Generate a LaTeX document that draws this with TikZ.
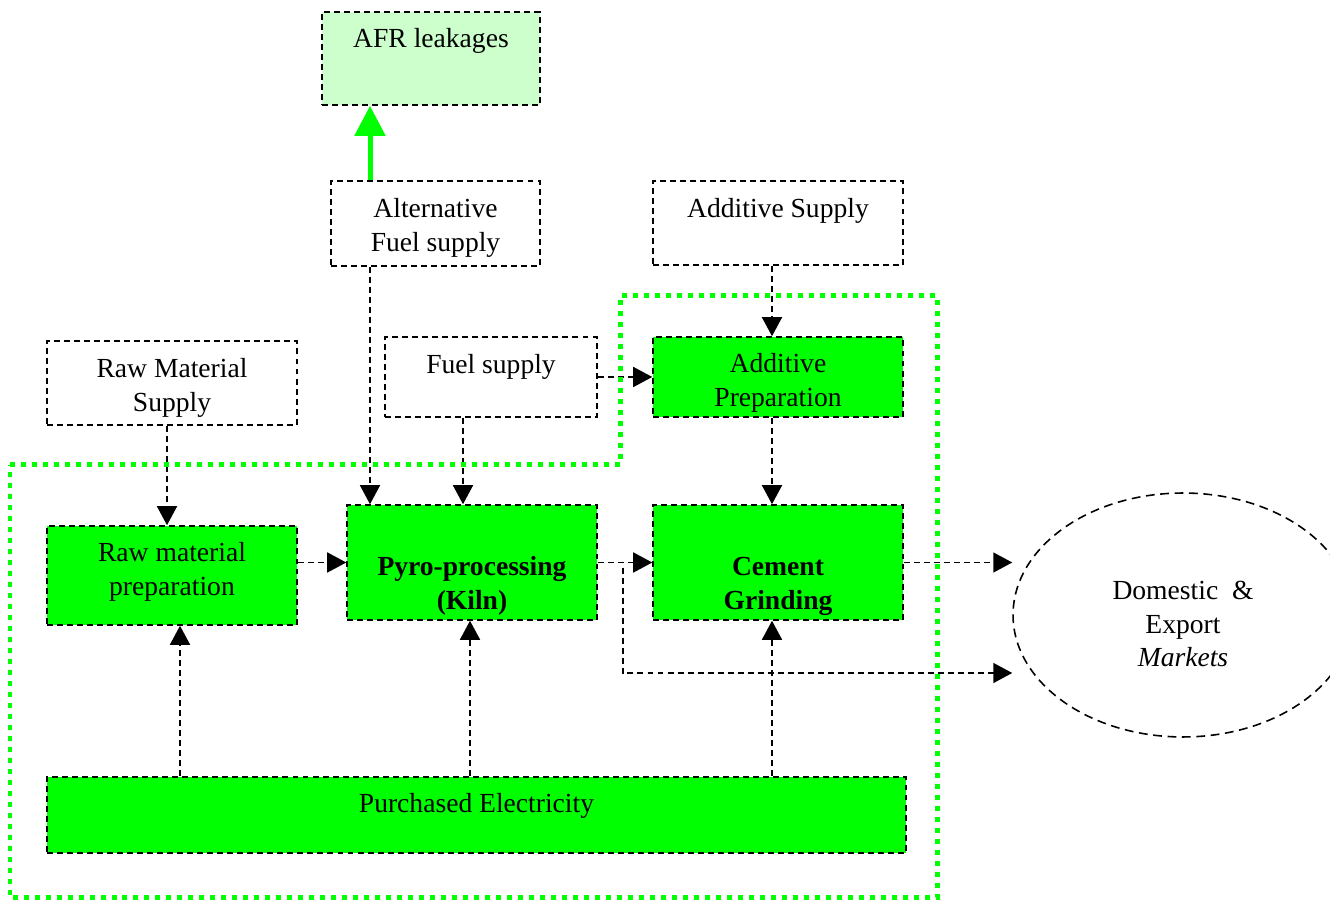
\documentclass[tikz,border=0pt]{standalone}
\usepackage{fontspec}
\setmainfont{Liberation Serif}
\usetikzlibrary{arrows.meta,calc,shapes.geometric}
\definecolor{kilngreen}{HTML}{00FF00}
\definecolor{leakgreen}{HTML}{CCFFCC}
\tikzset{
    box/.style={draw,line width=0.9pt,dash pattern=on 3.4pt off 2.3pt,inner sep=0pt,minimum width=5cm},
    procbox/.style={box,fill=kilngreen},
    flow/.style={draw,line width=0.9pt,dash pattern=on 3.4pt off 2.3pt,-{Triangle[length=0.38cm,width=0.4cm]}},
    leak/.style={draw=kilngreen,line width=0.1cm,-{Triangle[length=0.6cm,width=0.6cm]}},
    boundary/.style={draw=kilngreen,line width=0.1cm,dash pattern=on 0.1cm off 0.12cm}
}
\begin{document}
\begin{tikzpicture}[x=0.02cm,y=-0.02cm,font=\fontsize{15.7}{19.3}\selectfont]
    \useasboundingbox (0,0) rectangle (1330,901);
    % Boxes
        % Supplies
        \node[box,fill=leakgreen,minimum width=4.36cm,minimum height=1.86cm,label={[yshift=0.36cm]center:AFR leakages}] (AFR) at (431,58.5) {};
        \node[box,minimum width=4.18cm,minimum height=1.7cm,label={[align=center,yshift=-0.09cm]center:Alternative\\Fuel supply}] (AltFuel) at (435.5,223.5) {};
        \node[box,minimum height=1.68cm,label={[yshift=0.24cm]center:Additive Supply}] (AddSupply) at (778,223) {};
        \node[box,minimum height=1.68cm,label={[align=center,yshift=-0.1cm]center:Raw Material\\Supply}] (RawSupply) at (172,383) {};
        \node[box,minimum width=4.24cm,minimum height=1.6cm,label={[yshift=0.2cm]center:Fuel supply}] (FuelSupply) at (491,377) {};
        % Plant
        \node[procbox,minimum height=1.6cm,label={[align=center,yshift=-0.12cm]center:Additive\\Preparation}] (AddPrep) at (778,377) {};
        \node[procbox,minimum height=1.98cm,label={[align=center,yshift=0.07cm]center:Raw material\\preparation}] (RawPrep) at (172,575.5) {};
        \node[procbox,minimum height=2.3cm,label={[align=center,yshift=-0.47cm]center:\textbf{Pyro-processing}\\\textbf{(Kiln)}}] (Pyro) at (472,562.5) {};
        \node[procbox,minimum height=2.3cm,label={[align=center,yshift=-0.47cm]center:\textbf{Cement}\\\textbf{Grinding}}] (Cement) at (778,562.5) {};
        \node[procbox,minimum width=17.18cm,minimum height=1.52cm,label={[yshift=0.18cm]center:Purchased Electricity}] (Elec) at (476.5,815) {};
        % Markets
        \node[ellipse,draw,line width=0.9pt,dash pattern=on 5pt off 3.2pt,inner sep=0pt,minimum width=6.8cm,minimum height=4.88cm,
              label={[align=center,yshift=-0.18cm]center:Domestic\ \ \&\\Export\\\textit{Markets}}] (Mkt) at (1183,615) {};
    % Flows
        \coordinate (altx) at (370,0);
        \coordinate (fuelx) at (463,0);
        \draw[leak] (AltFuel.north -| altx) -- (AFR.south -| altx);
        \draw[flow] (AltFuel.south -| altx) -- (Pyro.north -| altx);
        \draw[flow] (FuelSupply.south -| fuelx) -- (Pyro.north -| fuelx);
        \draw[flow] (FuelSupply.east) -- (AddPrep.west);
        \draw[flow] ([xshift=-0.12cm]AddSupply.south) -- ([xshift=-0.12cm]AddPrep.north);
        \draw[flow] ([xshift=-0.12cm]AddPrep.south) -- ([xshift=-0.12cm]Cement.north);
        \draw[flow] ([xshift=-0.1cm]RawSupply.south) -- ([xshift=-0.1cm]RawPrep.north);
        \draw[flow] (RawPrep.east |- Pyro.west) -- (Pyro.west);
        \draw[flow] (Pyro) -- (Cement);
        \draw[flow] (Pyro.east) -- ++(25,0) |- ($(Mkt.west)+(0,58)$);
        \draw[flow] (Cement.east) -- (Cement.east -| Mkt.west);
        \foreach \t/\dx in {RawPrep/8,Pyro/-2,Cement/-6}{
            \draw[flow] ($(Elec.north -| \t.south)+(\dx,0)$) -- ($(\t.south)+(\dx,0)$);
        }
    % Boundary
        \draw[boundary] (10,465) -- (620,465) -- (620,296) -- (937,296) -- (937,898) -- (10,898) -- cycle;
\end{tikzpicture}
\end{document}
